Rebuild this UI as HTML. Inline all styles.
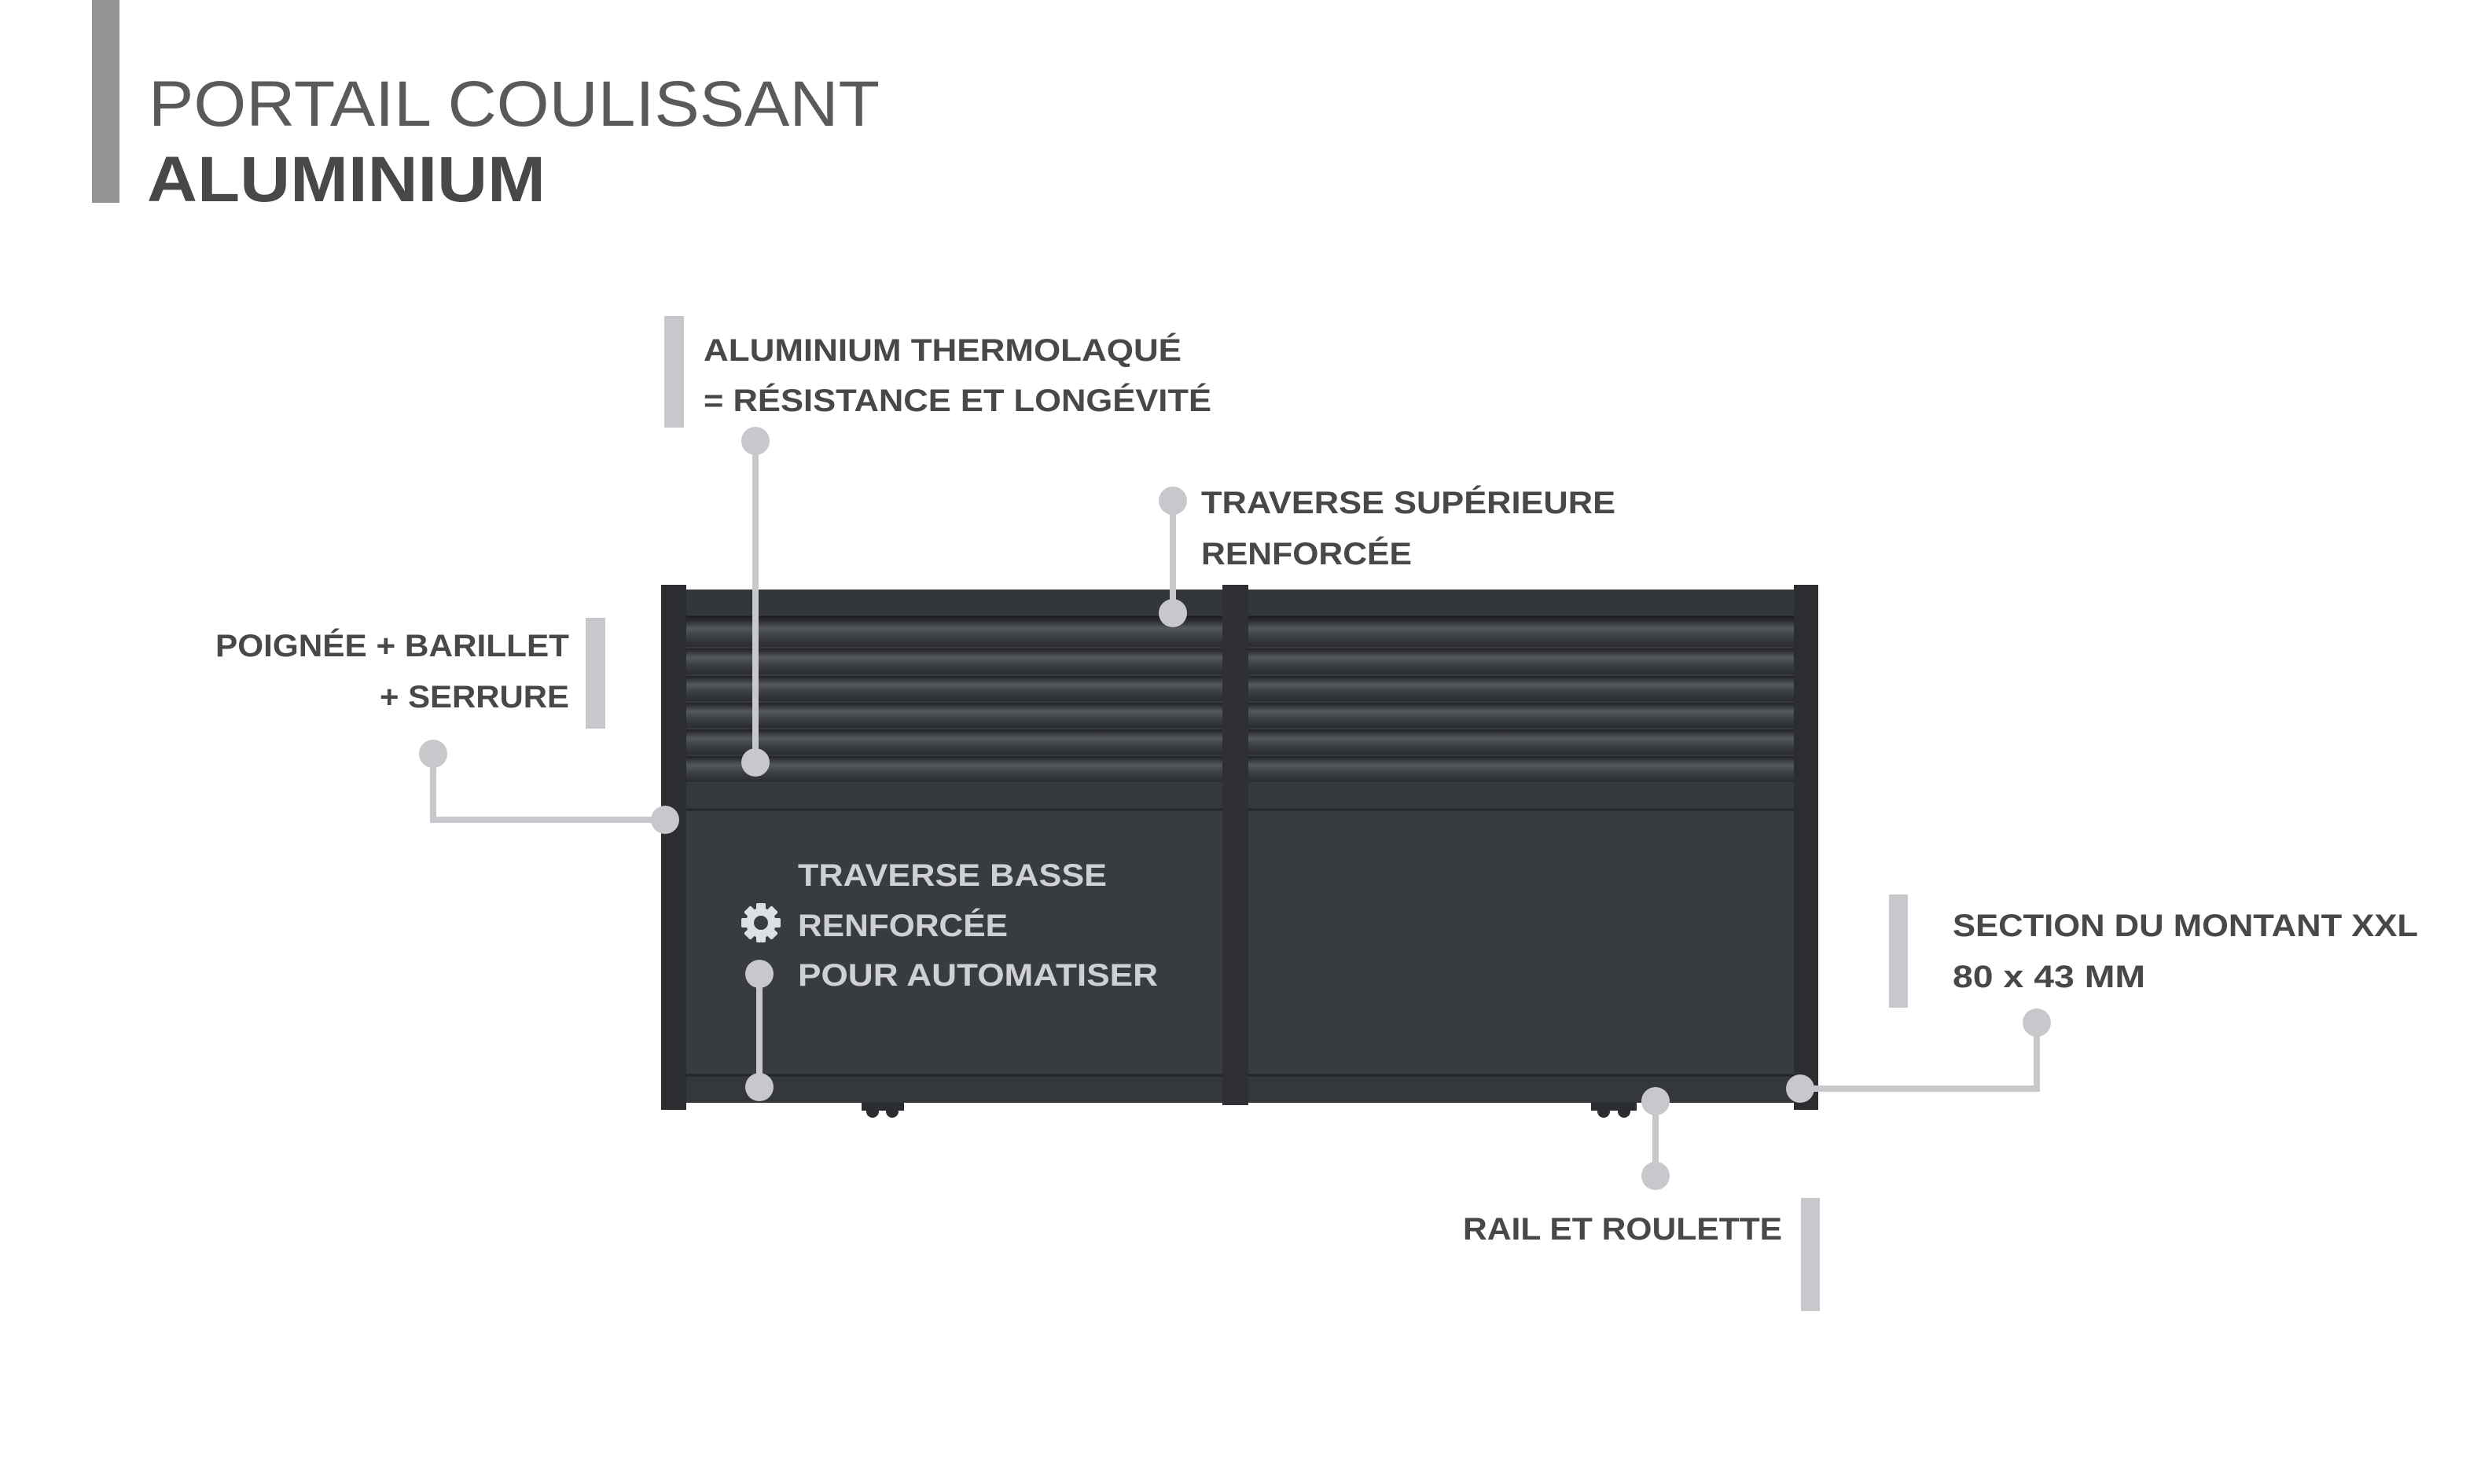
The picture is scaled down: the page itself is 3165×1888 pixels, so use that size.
<!DOCTYPE html>
<html><head><meta charset="utf-8"><style>
html,body{margin:0;padding:0;background:#fff;}
svg{display:block}
text{font-family:"Liberation Sans",sans-serif;}
</style></head><body>
<svg width="3165" height="1888" viewBox="0 0 3165 1888" xmlns="http://www.w3.org/2000/svg">
<defs>
<linearGradient id="slat" x1="0" y1="0" x2="0" y2="1">
<stop offset="0" stop-color="#1f2124"/><stop offset="0.35" stop-color="#55585d"/><stop offset="0.6" stop-color="#3e4145"/><stop offset="1" stop-color="#2a2c2f"/>
</linearGradient>
</defs>
<rect width="3165" height="1888" fill="#fff"/>
<!-- title -->
<rect x="117" y="0" width="35" height="258" fill="#939396"/>
<text x="189" y="160" font-size="82" font-weight="300" fill="#5a5a5d" textLength="930" lengthAdjust="spacingAndGlyphs">PORTAIL COULISSANT</text>
<text x="187" y="256" font-size="82" font-weight="bold" fill="#48484b" textLength="507" lengthAdjust="spacingAndGlyphs">ALUMINIUM</text>

<!-- gate -->
<rect x="873" y="750" width="1409" height="653" fill="#36393d"/>
<rect x="873" y="750" width="1409" height="35" fill="#34373a"/>
<line x1="873" y1="785" x2="2282" y2="785" stroke="#1c1e20" stroke-width="3"/>
<g>
<rect x="873" y="787" width="1409" height="36" fill="url(#slat)"/>
<rect x="873" y="825" width="1409" height="33" fill="url(#slat)"/>
<rect x="873" y="860" width="1409" height="32" fill="url(#slat)"/>
<rect x="873" y="894" width="1409" height="32" fill="url(#slat)"/>
<rect x="873" y="928" width="1409" height="32" fill="url(#slat)"/>
<rect x="873" y="962" width="1409" height="33" fill="url(#slat)"/>
</g>
<rect x="873" y="996" width="1409" height="34" fill="#35383c"/>
<line x1="873" y1="1030" x2="2282" y2="1030" stroke="#25272a" stroke-width="3"/>
<rect x="873" y="1032" width="1409" height="336" fill="#383b3f"/>
<line x1="873" y1="1368" x2="2282" y2="1368" stroke="#222427" stroke-width="3"/>
<rect x="873" y="1370" width="1409" height="33" fill="#35383b"/>
<rect x="841" y="744" width="32" height="668" fill="#2b2d30"/>
<rect x="2282" y="744" width="31" height="668" fill="#2b2d30"/>
<rect x="1555" y="744" width="33" height="662" fill="#2e3033"/>
<!-- wheels -->
<g fill="#2a2c2f">
<rect x="1096" y="1403" width="54" height="10"/><circle cx="1110" cy="1414" r="8"/><circle cx="1135" cy="1414" r="8"/>
<rect x="2024" y="1403" width="58" height="10"/><circle cx="2040" cy="1414" r="8"/><circle cx="2066" cy="1414" r="8"/>
</g>

<!-- connectors -->
<g stroke="#c8c8cc" stroke-width="8" fill="none">
<line x1="961" y1="561" x2="961" y2="970"/>
<line x1="1492" y1="637" x2="1492" y2="780"/>
<polyline points="551,959 551,1043 846,1043"/>
<line x1="966" y1="1239" x2="966" y2="1383"/>
<polyline points="2290,1385 2591,1385 2591,1301"/>
<line x1="2106" y1="1401" x2="2106" y2="1496"/>
</g>
<g fill="#c8c8cc">
<circle cx="961" cy="561" r="18"/><circle cx="961" cy="970" r="18"/>
<circle cx="1492" cy="637" r="18"/><circle cx="1492" cy="780" r="18"/>
<circle cx="551" cy="959" r="18"/><circle cx="846" cy="1043" r="18"/>
<circle cx="966" cy="1239" r="18"/><circle cx="966" cy="1383" r="18"/>
<circle cx="2290" cy="1385" r="18"/><circle cx="2591" cy="1301" r="18"/>
<circle cx="2106" cy="1401" r="18"/><circle cx="2106" cy="1496" r="18"/>
</g>
<!-- bars -->
<g fill="#c8c8cc">
<rect x="845" y="402" width="25" height="142"/>
<rect x="745" y="786" width="25" height="141"/>
<rect x="2403" y="1138" width="24" height="144"/>
<rect x="2291" y="1524" width="24" height="144"/>
</g>

<!-- labels -->
<g font-size="40" font-weight="bold" fill="#48484b">
<text x="895" y="459" textLength="608" lengthAdjust="spacingAndGlyphs">ALUMINIUM THERMOLAQUÉ</text>
<text x="895" y="523" textLength="646" lengthAdjust="spacingAndGlyphs">= RÉSISTANCE ET LONGÉVITÉ</text>
<text x="1528" y="653" textLength="527" lengthAdjust="spacingAndGlyphs">TRAVERSE SUPÉRIEURE</text>
<text x="1528" y="718" textLength="268" lengthAdjust="spacingAndGlyphs">RENFORCÉE</text>
<text x="274" y="835" textLength="450" lengthAdjust="spacingAndGlyphs">POIGNÉE + BARILLET</text>
<text x="483" y="900" textLength="241" lengthAdjust="spacingAndGlyphs">+ SERRURE</text>
<text x="2484" y="1191" textLength="592" lengthAdjust="spacingAndGlyphs">SECTION DU MONTANT XXL</text>
<text x="2484" y="1256" textLength="245" lengthAdjust="spacingAndGlyphs">80 x 43 MM</text>
<text x="1861" y="1577" textLength="406" lengthAdjust="spacingAndGlyphs">RAIL ET ROULETTE</text>
</g>
<g font-size="40" font-weight="bold" fill="#cfd0d4">
<text x="1015" y="1127" textLength="393" lengthAdjust="spacingAndGlyphs">TRAVERSE BASSE</text>
<text x="1015" y="1191" textLength="267" lengthAdjust="spacingAndGlyphs">RENFORCÉE</text>
<text x="1015" y="1254" textLength="458" lengthAdjust="spacingAndGlyphs">POUR AUTOMATISER</text>
</g>
<!-- gear -->
<g transform="translate(968,1174)" fill="#dde0e5">
<g>
<rect x="-6" y="-25" width="12" height="50" rx="2"/>
<rect x="-6" y="-25" width="12" height="50" rx="2" transform="rotate(45)"/>
<rect x="-6" y="-25" width="12" height="50" rx="2" transform="rotate(90)"/>
<rect x="-6" y="-25" width="12" height="50" rx="2" transform="rotate(135)"/>
</g>
<circle r="19"/>
<circle r="9" fill="#383b3f"/>
</g>
</svg>
</body></html>
